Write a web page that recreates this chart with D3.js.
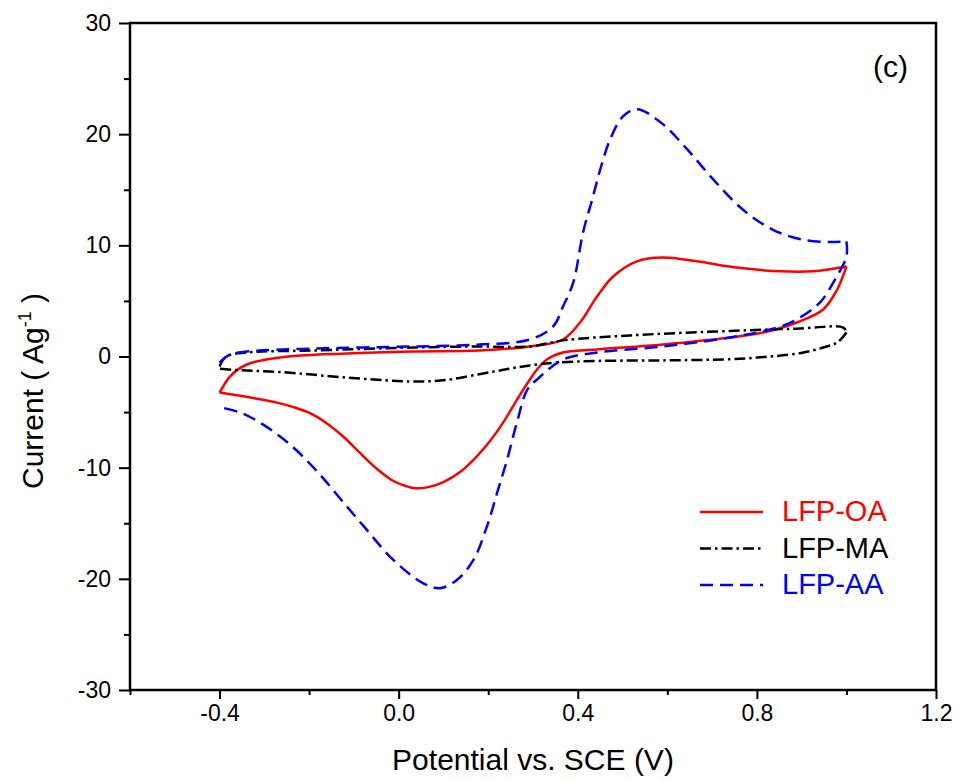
<!DOCTYPE html>
<meta charset="utf-8">
<style>
body { margin: 0; background: #fff; }
text { font-family: "Liberation Sans", Arial, sans-serif; fill: #000; }
.axis path, .axis line { stroke: #000; }
</style>
<body>
<script src="https://cdnjs.cloudflare.com/ajax/libs/d3/7.8.5/d3.min.js"></script>
<script>
// potential (V vs SCE), current (A/g)
var oaAnodic = [[-0.4,-3.24],[-0.392,-2.7],[-0.377,-1.8],[-0.339,-0.72],[-0.265,-0.09],[-0.115,0.27],[0.032,0.45],[0.18,0.54],[0.293,0.9],[0.367,1.53],[0.405,3.06],[0.443,5.4],[0.479,7.2],[0.532,8.56],[0.59,8.9],[0.666,8.56],[0.755,8.0],[0.852,7.66],[0.925,7.66],[1.0,8.1]];
var oaCathodic = [[1.0,8.1],[0.979,6.0],[0.948,4.23],[0.889,3.06],[0.814,2.16],[0.74,1.71],[0.59,1.08],[0.443,0.63],[0.367,0.36],[0.331,-0.27],[0.309,-1.17],[0.293,-2.07],[0.264,-3.9],[0.234,-5.9],[0.204,-7.6],[0.174,-9.0],[0.137,-10.4],[0.1,-11.3],[0.066,-11.75],[0.036,-11.85],[0.012,-11.6],[-0.012,-11.2],[-0.049,-10.1],[-0.086,-8.7],[-0.124,-7.2],[-0.161,-6.0],[-0.198,-5.1],[-0.235,-4.55],[-0.272,-4.15],[-0.31,-3.85],[-0.347,-3.58],[-0.4,-3.24]];

var maAnodic = [[-0.4,-0.9],[-0.385,0.0],[-0.339,0.36],[-0.19,0.54],[0.032,0.81],[0.18,0.9],[0.293,0.9],[0.367,1.45],[0.517,1.9],[0.74,2.3],[0.889,2.5],[0.993,2.6],[1.0,2.16]];
var maCathodic = [[1.0,2.16],[0.981,1.3],[0.956,0.9],[0.896,0.3],[0.8,-0.1],[0.74,-0.25],[0.59,-0.35],[0.443,-0.4],[0.35,-0.55],[0.293,-0.8],[0.24,-1.15],[0.18,-1.6],[0.108,-2.1],[0.05,-2.25],[-0.004,-2.2],[-0.115,-1.9],[-0.265,-1.4],[-0.37,-1.2],[-0.4,-1.1]];

var aaAnodic = [[-0.4,-0.54],[-0.377,0.18],[-0.339,0.45],[-0.19,0.72],[0.032,0.9],[0.18,1.08],[0.293,1.53],[0.345,2.7],[0.367,4.5],[0.39,6.67],[0.412,11.2],[0.432,14.1],[0.45,16.8],[0.472,19.5],[0.501,21.6],[0.532,22.25],[0.584,21.1],[0.644,18.65],[0.702,15.95],[0.769,13.2],[0.836,11.4],[0.903,10.5],[0.963,10.3],[1.0,10.36]];
var aaCathodic = [[1.0,10.36],[1.0,9.0],[0.974,6.9],[0.941,4.86],[0.889,3.33],[0.845,2.6],[0.74,1.71],[0.59,0.9],[0.443,0.36],[0.367,-0.27],[0.309,-2.07],[0.287,-3.0],[0.264,-5.95],[0.242,-9.3],[0.22,-12.25],[0.197,-15.3],[0.167,-18.3],[0.13,-20.1],[0.092,-20.84],[0.055,-20.4],[-0.012,-18.3],[-0.071,-15.6],[-0.124,-13.1],[-0.183,-10.3],[-0.243,-7.9],[-0.3,-6.2],[-0.35,-5.1],[-0.4,-4.55]];

var xTicks = [-0.4, 0.0, 0.4, 0.8, 1.2];
var xMinor = [-0.6, -0.2, 0.2, 0.6, 1.0];
var yTicks = [-30, -20, -10, 0, 10, 20, 30];
var yMinor = [-25, -15, -5, 5, 15, 25];

var series = [
  {name: "LFP-OA", color: "#ff0000", dash: null, parts: [oaAnodic, oaCathodic]},
  {name: "LFP-MA", color: "#000000", dash: "11,4,2.5,4", parts: [maAnodic, maCathodic]},
  {name: "LFP-AA", color: "#0000ff", dash: "13,7", parts: [aaAnodic, aaCathodic]}
];

var width = 959, height = 781;
var plotL = 130, plotR = 936, plotT = 23, plotB = 690;

var svg = d3.select("body").append("svg")
    .attr("width", width)
    .attr("height", height);

var x = d3.scaleLinear().domain([-0.6, 1.2]).range([plotL, plotR]);
var y = d3.scaleLinear().domain([-30, 30]).range([plotB, plotT]);

// minor ticks
svg.append("g").attr("class", "axis")
    .attr("transform", "translate(0," + plotB + ")")
    .call(d3.axisBottom(x).tickValues(xMinor).tickSize(5).tickFormat(""))
    .call(function(g) { g.select(".domain").remove(); g.selectAll("line").attr("stroke-width", 2); });
svg.append("g").attr("class", "axis")
    .attr("transform", "translate(" + plotL + ",0)")
    .call(d3.axisLeft(y).tickValues(yMinor).tickSize(6).tickFormat(""))
    .call(function(g) { g.select(".domain").remove(); g.selectAll("line").attr("stroke-width", 2); });

// major ticks
var xAxis = svg.append("g").attr("class", "axis")
    .attr("transform", "translate(0," + plotB + ")")
    .call(d3.axisBottom(x).tickValues(xTicks).tickSize(9).tickPadding(6)
      .tickFormat(function(d) { return d.toFixed(1); }));
xAxis.select(".domain").remove();
xAxis.selectAll("line").attr("stroke-width", 2);
xAxis.selectAll("text").attr("font-size", 23);

var yAxis = svg.append("g").attr("class", "axis")
    .attr("transform", "translate(" + plotL + ",0)")
    .call(d3.axisLeft(y).tickValues(yTicks).tickSize(11).tickPadding(8)
      .tickFormat(function(d) { return String(d); }));
yAxis.select(".domain").remove();
yAxis.selectAll("line").attr("stroke-width", 2);
yAxis.selectAll("text").attr("font-size", 23);

// frame
svg.append("rect")
    .attr("x", plotL).attr("y", plotT)
    .attr("width", plotR - plotL).attr("height", plotB - plotT)
    .attr("fill", "none").attr("stroke", "#000").attr("stroke-width", 2.5);

var line = d3.line()
    .x(function(d) { return x(d[0]); })
    .y(function(d) { return y(d[1]); })
    .curve(d3.curveCatmullRom.alpha(0.5));

series.forEach(function(s) {
  s.parts.forEach(function(p) {
    svg.append("path")
      .datum(p)
      .attr("d", line)
      .attr("fill", "none")
      .attr("stroke", s.color)
      .attr("stroke-width", 2.5)
      .attr("stroke-dasharray", s.dash);
  });
});

// legend
var legend = svg.append("g");
series.forEach(function(s, i) {
  var ly = 512 + i * 36.5;
  legend.append("line")
    .attr("x1", 700).attr("x2", 763)
    .attr("y1", ly).attr("y2", ly)
    .attr("stroke", s.color).attr("stroke-width", 2.5)
    .attr("stroke-dasharray", s.dash);
  legend.append("text")
    .attr("x", 782).attr("y", ly + 9)
    .attr("font-size", 29)
    .style("fill", s.color)
    .text(s.name);
});

svg.append("text")
    .attr("x", 873).attr("y", 77)
    .attr("font-size", 30)
    .text("(c)");

svg.append("text")
    .attr("x", 533).attr("y", 770)
    .attr("text-anchor", "middle")
    .attr("font-size", 30)
    .text("Potential vs. SCE (V)");

var yl = svg.append("text")
    .attr("transform", "translate(43,391) rotate(-90)")
    .attr("text-anchor", "middle")
    .attr("font-size", 30);
yl.append("tspan").text("Current ( Ag");
yl.append("tspan").attr("dy", -12).attr("font-size", 18).text("-1");
yl.append("tspan").attr("dy", 12).text(" )");
</script>
</body>
